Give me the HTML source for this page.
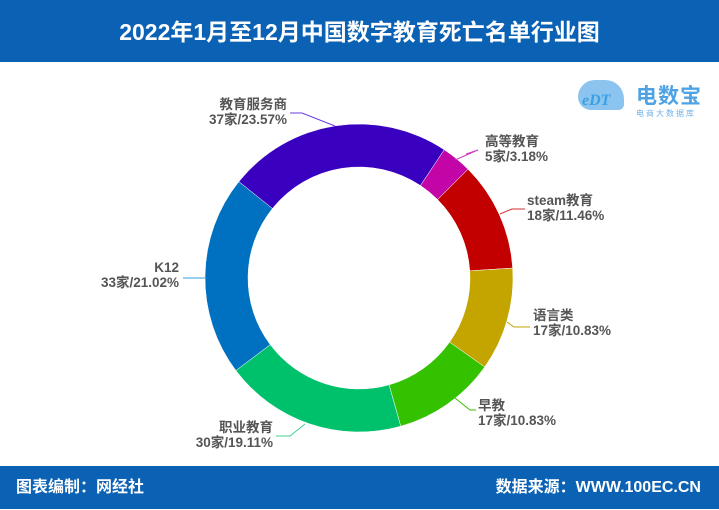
<!DOCTYPE html>
<html><head><meta charset="utf-8"><style>
body{margin:0;width:719px;height:509px;overflow:hidden;background:#fff;font-family:"Liberation Sans","Noto Sans CJK SC",sans-serif;position:relative}
.hd{position:absolute;left:0;top:0;width:719px;height:62px;background:#0b62b4;color:#fff;font-weight:bold;font-size:23px;text-align:center;line-height:64px}
.ft{position:absolute;left:0;top:466px;width:719px;height:43px;background:#0b62b4;color:#fff;font-weight:bold;font-size:16px;line-height:44px}
.lb{position:absolute;font-size:13.5px;font-weight:bold;color:#555;line-height:15px;white-space:nowrap}
</style></head><body>
<div class="hd">2022年1月至12月中国数字教育死亡名单行业图</div>
<svg id="s" width="719" height="509" style="position:absolute;left:0;top:0"></svg>
<div style="position:absolute;left:572px;top:72px;width:58px;height:40px;">
<div style="position:absolute;left:6px;top:8px;width:46px;height:30px;background:#8cc4f0;border-radius:18px 20px 6px 14px"></div>
<div style="position:absolute;left:10px;top:20px;font:bold italic 16px 'Liberation Serif',serif;color:#3aa0e0">eDT</div></div>
<div style="position:absolute;left:636px;top:80px;font-size:21px;font-weight:bold;color:#4fa3e4;letter-spacing:1px">电数宝</div>
<div style="position:absolute;left:636px;top:108px;font-size:8px;color:#6db2ea;letter-spacing:2px">电商大数据库</div>
<div class="lb" style="left:187px;top:97px;text-align:right;width:100px">教育服务商<br>37家/23.57%</div>
<div class="lb" style="left:485px;top:134px">高等教育<br>5家/3.18%</div>
<div class="lb" style="left:527px;top:193px">steam教育<br>18家/11.46%</div>
<div class="lb" style="left:533px;top:308px">语言类<br>17家/10.83%</div>
<div class="lb" style="left:478px;top:398px">早教<br>17家/10.83%</div>
<div class="lb" style="left:80px;top:260px;text-align:right;width:99px">K12<br>33家/21.02%</div>
<div class="lb" style="left:172px;top:420px;text-align:right;width:101px">职业教育<br>30家/19.11%</div>
<div class="ft"><span style="position:absolute;left:16px">图表编制：网经社</span><span style="position:absolute;right:18px">数据来源：WWW.100EC.CN</span></div>
<script>
var d=[[3.18,'#c305a8'],[11.46,'#c20000'],[10.83,'#c4a500'],[10.83,'#34c100'],[19.11,'#00c16b'],[21.02,'#0070c0'],[23.57,'#3a00c0']];
var cx=359,cy=278,R=154,r=111,a=33.6,s='';
function p(rad,ang){var t=(ang-90)*Math.PI/180;return [cx+rad*Math.cos(t),cy+rad*Math.sin(t)];}
d.forEach(function(e){var b=a+e[0]*3.6,l=(b-a)>180?1:0;var A=p(R,a),B=p(R,b),C=p(r,b),D=p(r,a);
s+='<path d="M'+A+'A'+R+','+R+' 0 '+l+' 1 '+B+'L'+C+'A'+r+','+r+' 0 '+l+' 0 '+D+'Z" fill="'+e[1]+'" stroke="#fff" stroke-width="0.5"/>';a=b;});
var L=[['#6a3ce0','290,113 302,113 335,126'],['#d040c0','466,154 478,150 455,160'],['#d03030','525,209 512,209 500,214'],['#c4a500','530,327 514,327 507,322'],['#34c100','476,410 470,410 455,398'],['#30a0e0','183,278 205,278'],['#40d090','276,436 290,436 305,424']];
L.forEach(function(e){s+='<polyline points="'+e[1]+'" fill="none" stroke="'+e[0]+'" stroke-width="1"/>';});
document.getElementById('s').innerHTML=s;
</script>
</body></html>
